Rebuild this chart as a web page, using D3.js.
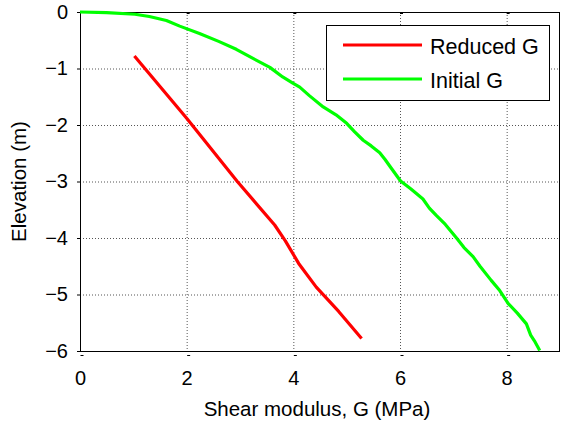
<!DOCTYPE html>
<html>
<head>
<meta charset="utf-8">
<script src="https://cdn.jsdelivr.net/npm/d3@7"></script>
<style>
  body { margin: 0; background: #fff; }
  svg { display: block; font-family: "Liberation Sans", Arial, sans-serif; }
</style>
</head>
<body>
<div id="viz"></div>
<script>
// Reduced G profile (MPa, m)
const reducedG = [[1.02, -0.78], [2.0, -1.88], [2.95, -3.0], [3.65, -3.77], [3.85, -4.05],
  [4.1, -4.45], [4.43, -4.87], [4.85, -5.3], [5.28, -5.78]];

// Initial G profile (MPa, m)
const initialG = [[0, 0], [0.5, -0.01], [1.03, -0.04], [1.3, -0.08], [1.62, -0.15], [1.87, -0.25],
  [2.24, -0.38], [2.6, -0.52], [2.93, -0.66], [3.2, -0.8], [3.56, -0.98], [3.8, -1.15],
  [3.99, -1.26], [4.12, -1.33], [4.3, -1.48], [4.56, -1.68], [4.8, -1.82], [5.0, -1.97],
  [5.15, -2.12], [5.31, -2.27], [5.46, -2.37], [5.62, -2.49], [5.72, -2.61], [5.81, -2.73],
  [6.01, -2.99], [6.2, -3.13], [6.43, -3.31], [6.55, -3.47], [6.68, -3.6], [6.85, -3.76],
  [7.06, -4.0], [7.2, -4.17], [7.37, -4.33], [7.5, -4.5], [7.71, -4.75], [7.87, -4.93],
  [8.03, -5.16], [8.2, -5.33], [8.37, -5.52], [8.45, -5.72], [8.52, -5.82], [8.62, -5.99]];

const xTicks = [0, 2, 4, 6, 8];
const yTicks = [0, -1, -2, -3, -4, -5, -6];
const seriesNames = ["Reduced G", "Initial G"];
const seriesColors = ["#ff0000", "#00ff00"];

const width = 562, height = 423;
const margin = { top: 12, right: 2, bottom: 72, left: 80 };

const svg = d3.select("#viz").append("svg")
  .attr("width", width)
  .attr("height", height);

const x = d3.scaleLinear().domain([0, 9]).range([margin.left, width - margin.right]);
const y = d3.scaleLinear().domain([-6, 0]).range([height - margin.bottom, margin.top]);

// grid
svg.append("g")
  .selectAll("line")
  .data(xTicks.slice(1))
  .join("line")
  .attr("x1", d => x(d) + 0.5).attr("x2", d => x(d) + 0.5)
  .attr("y1", y(0)).attr("y2", y(-6))
  .attr("stroke", "#555").attr("stroke-dasharray", "1,2");

svg.append("g")
  .selectAll("line")
  .data(yTicks.slice(1, -1))
  .join("line")
  .attr("x1", x(0)).attr("x2", x(9))
  .attr("y1", d => y(d) + 0.5).attr("y2", d => y(d) + 0.5)
  .attr("stroke", "#555").attr("stroke-dasharray", "1,2");

// axes
const xAxis = svg.append("g")
  .attr("transform", `translate(0,${y(-6)})`)
  .call(d3.axisBottom(x).tickValues(xTicks).tickSize(0).tickPadding(20).tickFormat(d3.format("d")));
xAxis.select(".domain").remove();
xAxis.selectAll("text").attr("font-size", 20).attr("fill", "#000").attr("font-family", null);
xAxis.selectAll(".tick").append("line")
  .attr("x1", 0).attr("x2", 3).attr("y1", 4.5).attr("y2", 4.5)
  .attr("stroke", "#000");

const yAxis = svg.append("g")
  .attr("transform", `translate(${x(0)},0)`)
  .call(d3.axisLeft(y).tickValues(yTicks).tickSize(3).tickPadding(9).tickFormat(d3.format("d")));
yAxis.select(".domain").remove();
yAxis.selectAll("text").attr("font-size", 20).attr("fill", "#000").attr("font-family", null);

// small marks along the top edge
svg.append("g").selectAll("line")
  .data(xTicks.slice(1))
  .join("line")
  .attr("x1", d => x(d)).attr("x2", d => x(d) + 3)
  .attr("y1", y(0) + 1.5).attr("y2", y(0) + 1.5)
  .attr("stroke", "#000");

// frame
svg.append("rect")
  .attr("x", x(0) + 0.5).attr("y", y(0) + 0.5)
  .attr("width", x(9) - x(0) - 1).attr("height", y(-6) - y(0))
  .attr("fill", "none").attr("stroke", "#000");

// profiles
const line = d3.line().x(d => x(d[0])).y(d => y(d[1]));
[reducedG, initialG].forEach((s, i) => {
  svg.append("path")
    .datum(s)
    .attr("fill", "none")
    .attr("stroke", seriesColors[i])
    .attr("stroke-width", 3.2)
    .attr("stroke-linejoin", "round")
    .attr("d", line);
});

// axis labels
svg.append("text")
  .attr("x", (x(0) + x(9)) / 2 - 3)
  .attr("y", 416)
  .attr("text-anchor", "middle")
  .attr("font-size", 20.5)
  .text("Shear modulus, G (MPa)");

svg.append("text")
  .attr("transform", `translate(26,${(y(0) + y(-6)) / 2}) rotate(-90)`)
  .attr("text-anchor", "middle")
  .attr("font-size", 20.5)
  .text("Elevation (m)");

// legend
const legend = svg.append("g");
legend.append("rect")
  .attr("x", 326.5).attr("y", 25.5)
  .attr("width", 223).attr("height", 75)
  .attr("fill", "#fff").attr("stroke", "#000");

seriesNames.forEach((name, i) => {
  const ly = 45 + i * 34;
  legend.append("line")
    .attr("x1", 343).attr("x2", 422)
    .attr("y1", ly).attr("y2", ly)
    .attr("stroke", seriesColors[i]).attr("stroke-width", 3.2);
  legend.append("text")
    .attr("x", 430).attr("y", ly + 1)
    .attr("dy", "0.35em")
    .attr("font-size", 21.5)
    .text(name);
});
</script>
</body>
</html>
